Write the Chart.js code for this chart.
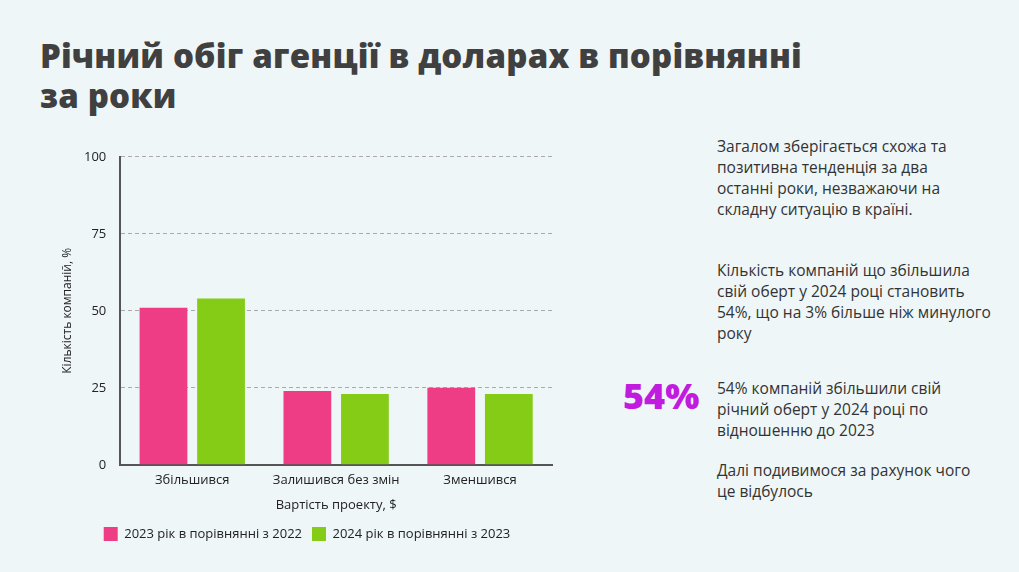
<!DOCTYPE html>
<html lang="uk">
<head>
<meta charset="UTF-8">
<title>Річний обіг агенції</title>
<script src="https://cdn.jsdelivr.net/npm/chart.js"></script>
<style>
  html, body { margin: 0; padding: 0; }
  body {
    width: 1019px; height: 572px; overflow: hidden;
    background: #eff6f8; position: relative;
    font-family: "Open Sans", sans-serif; color: #333;
  }
  h1 {
    position: absolute; left: 40px; top: 36px; margin: 0;
    font-size: 33px; line-height: 40px; font-weight: 800; color: #404040;
    letter-spacing: 0.2px;
  }
  #chartBox { position: absolute; left: 62px; top: 135px; width: 492px; height: 416px; }
  .txt {
    position: absolute; left: 717px; width: 300px; white-space: nowrap;
    font-size: 15.5px; line-height: 21px; color: #333; margin: 0;
  }
  #big {
    position: absolute; left: 623px; top: 374px; margin: 0;
    font-size: 36px; font-weight: 800; color: #c21be0; line-height: 44px;
  }
</style>
</head>
<body>
<h1>Річний обіг агенції в доларах в порівнянні<br>за роки</h1>
<div id="chartBox"><canvas id="turnoverChart"></canvas></div>

<p class="txt" style="top:136px">Загалом зберігається схожа та<br>позитивна тенденція за два<br>останні роки, незважаючи на<br>складну ситуацію в країні.</p>
<p class="txt" style="top:260px">Кількість компаній що збільшила<br>свій оберт у 2024 році становить<br>54%, що на 3% більше ніж минулого<br>року</p>
<p id="big">54%</p>
<p class="txt" style="top:378px">54% компаній збільшили свій<br>річний оберт у 2024 році по<br>відношенню до 2023</p>
<p class="txt" style="top:460px">Далі подивимося за рахунок чого<br>це відбулось</p>

<script>
const categories = ['Збільшився', 'Залишився без змін', 'Зменшився'];
const seriesNames = ['2023 рік в порівнянні з 2022', '2024 рік в порівнянні з 2023'];
const values2023 = [51, 24, 25];
const values2024 = [54, 23, 23];
const yTicks = [0, 25, 50, 75, 100];

const ctx = document.getElementById('turnoverChart').getContext('2d');
new Chart(ctx, {
  type: 'bar',
  data: {
    labels: categories,
    datasets: [
      { label: seriesNames[0], data: values2023, backgroundColor: '#ee3d84' },
      { label: seriesNames[1], data: values2024, backgroundColor: '#84cc16' }
    ]
  },
  options: {
    responsive: true,
    maintainAspectRatio: false,
    animation: false,
    categoryPercentage: 0.8,
    barPercentage: 0.83,
    layout: { padding: { right: 2 } },
    plugins: {
      legend: {
        position: 'bottom',
        labels: {
          color: '#222',
          boxWidth: 14, boxHeight: 14,
          padding: 10,
          font: { family: 'Open Sans', size: 13 }
        }
      },
      tooltip: { enabled: false }
    },
    scales: {
      x: {
        grid: { display: false },
        border: { display: true, color: '#555', width: 2 },
        ticks: { color: '#222', padding: 0, font: { family: 'Open Sans', size: 13 } },
        title: {
          display: true, text: 'Вартість проекту, $', color: '#222',
          font: { family: 'Open Sans', size: 13 }, padding: { top: 9, bottom: 4 }
        }
      },
      y: {
        min: 0, max: 100,
        afterBuildTicks: axis => { axis.ticks = yTicks.map(v => ({ value: v })); },
        grid: { color: '#aaa', drawTicks: false, lineWidth: 1 },
        border: { display: true, color: '#555', width: 2, dash: [4, 3] },
        ticks: { color: '#222', padding: 14, font: { family: 'Open Sans', size: 13 } },
        title: {
          display: true, text: 'Кількість компаній, %', color: '#222',
          font: { family: 'Open Sans', size: 12, lineHeight: 1 }, padding: { top: 0, bottom: -4 }
        }
      }
    }
  }
});
</script>
</body>
</html>
